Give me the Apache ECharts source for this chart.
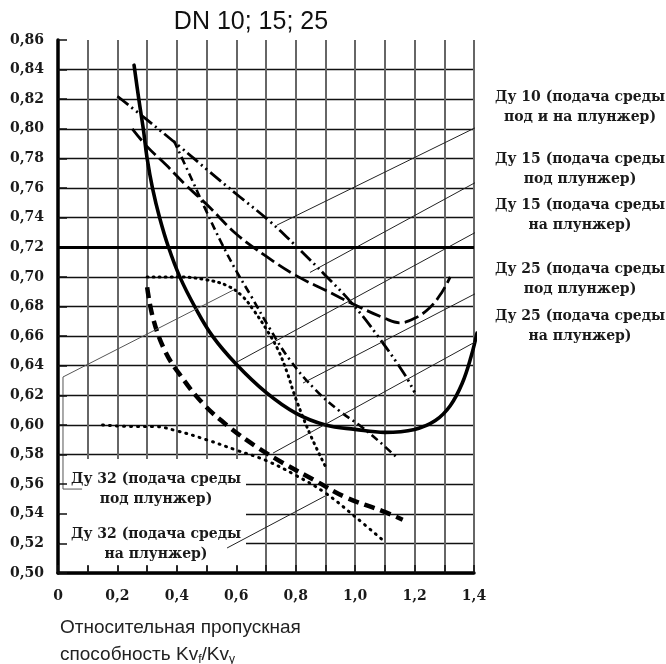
<!DOCTYPE html>
<html>
<head>
<meta charset="utf-8">
<script src="https://cdn.jsdelivr.net/npm/echarts@6/dist/echarts.min.js"></script>
<style>
html,body{margin:0;padding:0;background:#fff}
#chart{width:666px;height:664px}
</style>
</head>
<body>
<div id="chart"></div>
<script>
var xTickLabels = ['0','','0,2','','0,4','','0,6','','0,8','','1,0','','1,2','','1,4'];
var yTickLabels = ['0,50','0,52','0,54','0,56','0,58','0,60','0,62','0,64','0,66','0,68',
                   '0,70','0,72','0,74','0,76','0,78','0,80','0,82','0,84','0,86'];

// curves, [Kvf/Kvy, value]
var du10 = [[0.2,0.822],[0.3,0.806],[0.41,0.788],[0.51,0.771],[0.6,0.756],[0.71,0.738],[0.8,0.721],
            [0.9,0.701],[0.99,0.682],[1.08,0.659],[1.17,0.633],[1.2,0.622]];
var du15pod = [[0.25,0.80],[0.3,0.788],[0.367,0.775],[0.43,0.762],[0.5,0.749],[0.6,0.729],[0.7,0.714],
               [0.8,0.701],[0.9,0.691],[1.0,0.681],[1.1,0.672],[1.15,0.669],[1.2,0.672],[1.25,0.679],
               [1.29,0.689],[1.32,0.70]];
var du15na = [[0.256,0.843],[0.272,0.82],[0.287,0.80],[0.30,0.78],[0.318,0.76],[0.342,0.74],[0.372,0.72],
              [0.41,0.70],[0.46,0.68],[0.52,0.66],[0.60,0.641],[0.70,0.622],[0.80,0.608],[0.90,0.60],
              [1.0,0.597],[1.1,0.595],[1.2,0.597],[1.27,0.603],[1.32,0.613],[1.36,0.628],[1.39,0.646],
              [1.41,0.662]];
var du25pod = [[0.39,0.792],[0.45,0.766],[0.50,0.744],[0.55,0.723],[0.60,0.704],[0.65,0.687],[0.71,0.666],
               [0.78,0.644],[0.87,0.623],[0.95,0.609],[1.02,0.599],[1.08,0.589],[1.14,0.578]];
var du25na = [[0.30,0.693],[0.32,0.672],[0.36,0.65],[0.41,0.634],[0.49,0.614],[0.58,0.598],[0.67,0.585],
              [0.76,0.574],[0.86,0.563],[0.97,0.551],[1.09,0.542],[1.16,0.536]];
var du32pod = [[0.3,0.70],[0.4,0.70],[0.5,0.698],[0.57,0.694],[0.62,0.687],[0.66,0.677],[0.7,0.665],
               [0.74,0.651],[0.77,0.636],[0.8,0.618],[0.85,0.593],[0.9,0.572]];
var du32na = [[0.15,0.60],[0.25,0.599],[0.32,0.599],[0.4,0.596],[0.5,0.59],[0.6,0.583],[0.7,0.576],
              [0.8,0.566],[0.9,0.554],[1.0,0.538],[1.1,0.521]];

var refLevel = 0.72;

// thin pointer lines from the notes to the curves
var lead10 = [[1.478,0.808],[0.737,0.735]];
var lead15pod = [[1.494,0.7735],[0.848,0.703]];
var lead15na = [[1.494,0.7398],[0.6025,0.6425]];
var lead25pod = [[1.494,0.698],[0.8246,0.6283]];
var lead25na = [[1.494,0.666],[0.7237,0.581]];
var lead32pod = [[0.589,0.691],[0.0168,0.6324],[0.0168,0.5567],[0.081,0.5567]];
var lead32na = [[0.569,0.5169],[0.899,0.552]];

var notes = [
  'Ду 10 (подача среды\nпод и на плунжер)',
  'Ду 15 (подача среды\nпод плунжер)',
  'Ду 15 (подача среды\nна плунжер)',
  'Ду 25 (подача среды\nпод плунжер)',
  'Ду 25 (подача среды\nна плунжер)',
  'Ду 32 (подача среды\nпод плунжер)',
  'Ду 32 (подача среды\nна плунжер)'
];

var serif = '"DejaVu Serif", serif';
var sans = '"Liberation Sans", Arial, sans-serif';

function curve(data, width, type, cap, extra) {
  var s = {
    type: 'line', data: data, symbol: 'none', smooth: 0.4,
    silent: true, z: 2,
    lineStyle: { color: '#000', width: width, type: type, cap: cap || 'butt', join: 'round' }
  };
  if (extra) Object.assign(s, extra);
  return s;
}
function leader(data, color) {
  return {
    type: 'line', data: data, symbol: 'none', clip: false, silent: true, z: 2,
    lineStyle: { color: color || '#222', width: 1 }
  };
}
function note(i, x, y) {
  return {
    type: 'text', x: x, y: y, z: 4,
    style: {
      text: notes[i], font: 'bold 14px ' + serif, fill: '#1a1a1a',
      align: 'center', verticalAlign: 'middle', lineHeight: 20
    }
  };
}

var myChart = echarts.init(document.getElementById('chart'));
var option = {
  animation: false,
  grid: [
    { left: 58, right: 192, top: 40, bottom: 91 },
    { left: 58, right: 192, top: 40, bottom: 91 }
  ],
  xAxis: [
    {
      type: 'value', min: 0, max: 1.4, interval: 0.1, gridIndex: 0,
      axisLine: { onZero: false, lineStyle: { color: '#000', width: 3.5 } },
      axisTick: { show: false },
      axisLabel: {
        margin: 16, color: '#1a1a1a', fontFamily: serif, fontWeight: 'bold', fontSize: 14,
        formatter: function (v) { return xTickLabels[Math.round(v * 10)] || ''; }
      },
      splitLine: { show: true, lineStyle: { color: '#666', width: 2 } }
    },
    {
      type: 'value', min: 0, max: 1.4, interval: 0.1, gridIndex: 1, z: 3,
      axisLine: { show: false }, axisLabel: { show: false }, splitLine: { show: false },
      axisTick: { show: true, inside: true, length: 8, lineStyle: { color: '#111', width: 1.5 } }
    }
  ],
  yAxis: [
    {
      type: 'value', min: 0.5, max: 0.86, interval: 0.02, gridIndex: 0,
      axisLine: { onZero: false, lineStyle: { color: '#000', width: 3.5 } },
      axisTick: { show: false },
      axisLabel: {
        margin: 14, color: '#1a1a1a', fontFamily: serif, fontWeight: 'bold', fontSize: 14,
        formatter: function (v) { return yTickLabels[Math.round((v - 0.5) / 0.02)] || ''; }
      },
      splitLine: { show: true, showMaxLine: false, lineStyle: { color: '#111', width: 1.3 } }
    },
    {
      type: 'value', min: 0.5, max: 0.86, interval: 0.02, gridIndex: 1, z: 3,
      axisLine: { show: false }, axisLabel: { show: false }, splitLine: { show: false },
      axisTick: { show: true, inside: true, length: 9, lineStyle: { color: '#111', width: 1.5 } }
    }
  ],
  series: [
    curve(du15na, 3.6, 'solid', 'round', {
      markLine: {
        silent: true, symbol: 'none', label: { show: false },
        lineStyle: { color: '#000', width: 3, type: 'solid' },
        data: [{ yAxis: refLevel }]
      }
    }),
    curve(du10, 2.8, [14, 4, 2, 4, 2, 4]),
    curve(du15pod, 2.8, [15, 5]),
    curve(du25pod, 2.6, [8, 4, 2, 4]),
    curve(du25na, 4.5, [11, 6]),
    curve(du32pod, 3, [1, 5], 'round'),
    curve(du32na, 3, [1, 6], 'round'),
    leader(lead10), leader(lead15pod), leader(lead15na), leader(lead25pod),
    leader(lead25na), leader(lead32pod, '#555'), leader(lead32na)
  ],
  graphic: [
    { type: 'rect', z: 1, shape: { x: 60, y: 459, width: 186, height: 107 }, style: { fill: '#fff' } },
    {
      type: 'text', x: 251, y: 22, z: 4,
      style: { text: 'DN 10; 15; 25', font: '25px ' + sans, fill: '#111', align: 'center', verticalAlign: 'middle' }
    },
    note(0, 580, 107),
    note(1, 580, 169),
    note(2, 580, 215),
    note(3, 580, 279),
    note(4, 580, 326),
    note(5, 156, 489),
    note(6, 156, 544),
    {
      type: 'text', x: 60, y: 628, z: 4,
      style: { text: 'Относительная пропускная', font: '19px ' + sans, fill: '#222', verticalAlign: 'middle' }
    },
    {
      type: 'text', x: 60, y: 655, z: 4,
      style: {
        text: '{a|способность Kv}{s|f}{a|/Kv}{s|y}', verticalAlign: 'middle', fill: '#222',
        rich: {
          a: { fontFamily: sans, fontSize: 19, fill: '#222' },
          s: { fontFamily: sans, fontSize: 12, fill: '#222', padding: [10, 0, 0, 0] }
        }
      }
    }
  ]
};
myChart.setOption(option);
</script>
</body>
</html>
